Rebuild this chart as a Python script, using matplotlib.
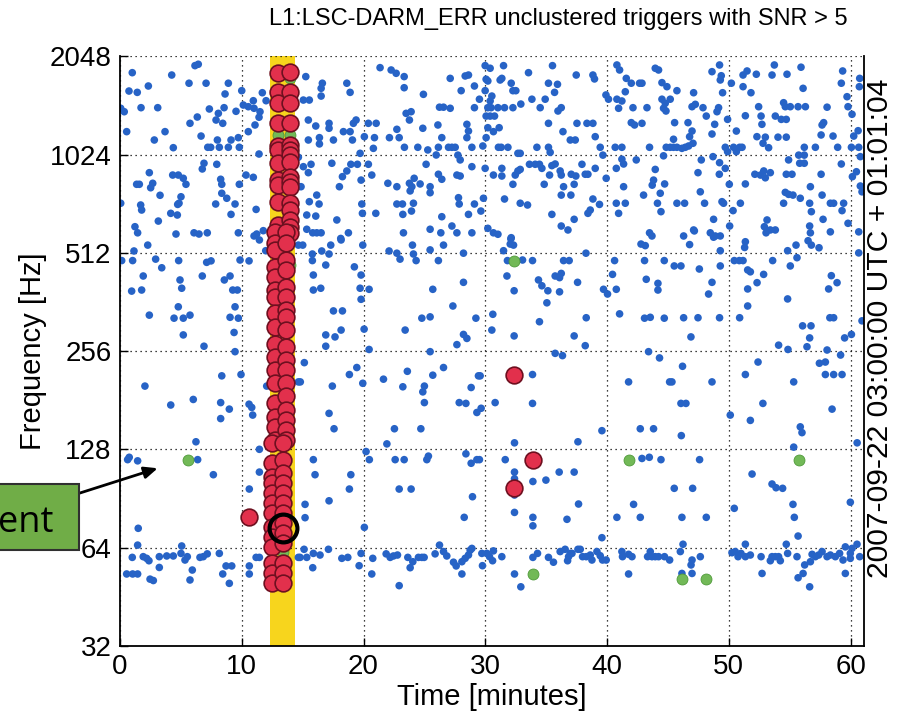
import matplotlib.pyplot as plt
from matplotlib.patches import Rectangle
from matplotlib.ticker import NullLocator

# ---- data: (time [min], frequency [Hz]) ----
blue_1024_2048 = [
    (1.01, 1827), (4.25, 1797), (6.16, 1920), (6.43, 1939), (0.74, 1605), (1.42, 1590), (2.33, 1663),
    (5.67, 1696), (7.07, 1696), (8.9, 1696), (8.63, 1572), (10.0, 1609), (0.06, 1421), (0.35, 1387),
    (1.73, 1427), (3.1, 1427), (7.34, 1414), (8.08, 1371), (8.55, 1427), (9.53, 1391), (10.13, 1454),
    (10.54, 1437), (10.95, 1499), (11.01, 1421), (11.5, 1387), (11.69, 1586), (12.0, 1499), (6.35, 1336),
    (5.75, 1278), (7.89, 1308), (8.44, 1278), (0.55, 1205), (3.7, 1205), (2.82, 1136), (6.66, 1168),
    (8.0, 1136), (9.12, 1136), (9.72, 1155), (10.54, 1205), (11.09, 1263), (11.42, 1334), (4.38, 1076),
    (7.21, 1079), (7.45, 1079), (8.16, 1079), (8.9, 1079), (9.8, 1079), (11.42, 1029),
    (15.26, 1777), (16.62, 1696), (16.52, 1636), (16.52, 1549), (18.63, 1696), (18.9, 1590), (15.06, 1506),
    (15.55, 1506), (15.47, 1308), (16.08, 1254), (17.17, 1278), (17.17, 1234), (18.35, 1205), (18.9, 1205),
    (19.39, 1308), (19.17, 1278), (15.47, 1136), (16.38, 1155), (16.38, 1105), (17.53, 1136), (19.09, 1136),
    (20.07, 1163), (21.36, 1893), (22.27, 1862), (22.68, 1819), (23.34, 1777), (23.34, 1643), (24.92, 1568),
    (26.24, 1432), (26.57, 1432), (23.5, 1371), (23.91, 1387), (23.77, 1308), (20.4, 1278), (21.04, 1278),
    (22.74, 1225), (24.87, 1234), (26.11, 1263), (20.9, 1155), (22.13, 1155), (22.93, 1155), (26.43, 1155),
    (20.81, 1071), (23.36, 1079), (24.46, 1079), (25.28, 1059), (26.15, 1079), (26.98, 1079), (19.72, 1034),
    (27.12, 1755), (27.12, 1421), (28.35, 1785), (28.62, 1797), (28.02, 1609), (29.11, 1663), (29.99, 1920),
    (30.4, 1885), (31.5, 1920), (30.07, 1744), (30.21, 1723), (31.22, 1735), (31.36, 1755), (32.13, 1696),
    (29.99, 1609), (30.54, 1549), (32.27, 1609), (32.51, 1609), (29.52, 1515), (30.4, 1496), (29.11, 1427),
    (30.21, 1427), (30.48, 1427), (31.04, 1427), (31.58, 1427), (32.27, 1427), (32.92, 1464), (33.55, 1827),
    (33.83, 1515), (34.51, 1427), (34.92, 1515), (35.52, 1920), (35.19, 1696), (35.93, 1683), (35.69, 1590),
    (36.24, 1427), (35.97, 1394), (37.47, 1797), (38.84, 1797), (38.97, 1748), (30.07, 1345), (30.4, 1345),
    (30.76, 1345), (28.49, 1269), (28.62, 1210), (28.49, 1155), (30.21, 1239), (30.67, 1205), (31.14, 1239),
    (30.07, 1155), (35.19, 1278), (36.38, 1205), (37.53, 1278), (38.35, 1278), (38.84, 1278), (39.03, 1163),
    (36.98, 1136), (37.39, 1136), (27.26, 1079), (27.53, 1079), (28.9, 1079), (29.8, 1089), (31.08, 1079),
    (31.31, 1079), (31.86, 1079), (32.68, 1034), (32.87, 1034), (34.24, 1079), (35.19, 1079), (35.33, 1041),
    (39.44, 1079), (40.81, 1929), (41.03, 1862), (41.58, 1755), (41.99, 1696), (42.67, 1696), (42.87, 1696),
    (41.5, 1597), (39.91, 1561), (40.12, 1515), (40.81, 1515), (41.22, 1496), (40.95, 1421), (42.13, 1427),
    (43.28, 1427), (43.96, 1885), (44.23, 1862), (41.99, 1284), (42.26, 1263), (42.87, 1278), (40.67, 1079),
    (41.22, 1079), (43.49, 1079),
    (44.51, 1703), (44.92, 1655), (45.74, 1609), (44.51, 1515), (45.19, 1515), (44.78, 1472), (44.64, 1421),
    (44.84, 1394), (47.11, 1586), (48.62, 1840), (49.24, 1929), (49.38, 1788), (49.3, 1735), (49.49, 1586),
    (46.98, 1437), (47.25, 1461), (47.88, 1427), (48.15, 1345), (49.16, 1427), (49.03, 1387), (49.9, 1314),
    (45.55, 1284), (46.65, 1284), (46.98, 1210), (46.78, 1163), (48.84, 1269), (48.62, 1185), (45.46, 1142),
    (44.86, 1079), (45.19, 1079), (45.46, 1079), (45.74, 1079), (46.15, 1071), (46.43, 1079), (46.7, 1089),
    (47.06, 1110), (49.71, 1079), (49.9, 1046), (50.39, 1079), (50.62, 1046), (51.09, 1079),
    (50.21, 1696), (51.17, 1797), (51.5, 1849), (52.26, 1807), (53.55, 1797), (53.74, 1929), (54.78, 1807),
    (55.93, 1899), (51.17, 1655), (51.82, 1586), (56.1, 1636), (52.45, 1437), (52.65, 1345), (51.36, 1348),
    (50.62, 1210), (52.72, 1269), (53.82, 1345), (54.31, 1314), (54.72, 1314), (54.5, 1478), (54.64, 1437),
    (55.05, 1437), (55.69, 1437), (56.29, 1437), (52.31, 1163), (53.0, 1159), (54.04, 1159), (54.72, 1159),
    (52.81, 1110), (53.27, 1076), (50.89, 1079), (56.2, 1079), (57.11, 1079), (58.07, 1432), (57.66, 1263),
    (57.79, 1284), (57.58, 1177), (58.56, 1168), (59.35, 1849), (59.24, 1696), (59.71, 1542), (59.79, 1437),
    (60.12, 1362), (60.75, 1755), (60.72, 1655), (60.62, 1213), (60.26, 1168), (60.07, 1079), (60.67, 1079),
    (58.94, 1079),
]

blue_512_1024 = [
    (6.9, 964), (6.76, 926), (7.95, 957), (2.41, 902), (1.37, 831), (1.59, 831), (2.69, 837), (2.52, 811),
    (4.33, 887), (4.79, 887), (5.2, 867), (5.42, 831), (8.27, 861), (8.36, 831), (10.35, 887), (10.95, 873),
    (9.8, 831), (3.29, 769), (5.01, 761), (4.85, 727), (4.74, 721), (8.36, 780), (8.77, 753), (0.06, 727),
    (1.7, 718), (1.78, 693), (4.17, 677), (4.71, 669), (7.86, 723), (9.45, 723), (11.18, 696), (9.12, 672),
    (3.15, 641), (1.23, 616), (1.45, 590), (4.6, 585), (6.08, 590), (6.49, 585), (7.17, 590), (9.72, 590),
    (11.23, 585), (11.77, 599), (14.65, 817),
    (25.97, 1022), (14.65, 1006), (15.06, 941), (15.69, 957), (15.47, 902), (17.4, 964), (18.96, 957),
    (19.5, 957), (18.63, 913), (18.27, 877), (18.02, 817), (19.8, 856), (14.87, 817), (20.68, 887),
    (20.4, 957), (22.0, 837), (22.74, 817), (24.16, 867), (23.77, 837), (23.97, 817), (23.83, 793),
    (24.65, 833), (25.14, 957), (26.15, 892), (26.43, 861), (25.47, 817), (25.47, 783), (16.16, 770),
    (16.35, 723), (15.55, 735), (19.86, 723), (22.74, 723), (23.2, 723), (24.1, 727), (23.94, 688),
    (23.23, 672), (15.34, 669), (16.08, 664), (17.81, 646), (19.91, 677), (21.01, 677), (26.43, 661),
    (15.34, 605), (15.83, 590), (16.16, 590), (16.52, 590), (18.13, 567), (18.76, 590), (23.28, 590),
    (25.47, 605), (26.35, 590),
    (39.66, 1021), (27.75, 1021), (27.94, 987), (28.9, 941), (29.99, 930), (27.67, 887), (27.94, 881),
    (30.67, 887), (31.36, 930), (31.36, 881), (32.68, 913), (32.87, 923), (32.46, 887), (33.63, 957),
    (34.1, 957), (34.45, 957), (34.65, 930), (35.47, 948), (35.74, 959), (35.28, 887), (36.15, 913),
    (36.24, 887), (37.06, 892), (37.44, 881), (37.94, 957), (38.21, 892), (38.43, 892), (39.03, 930),
    (32.27, 831), (34.84, 831), (36.43, 817), (37.3, 831), (36.24, 770), (37.03, 770), (27.8, 756),
    (27.86, 723), (29.11, 723), (29.85, 753), (31.58, 749), (32.87, 727), (33.47, 718), (38.84, 749),
    (39.38, 721), (28.62, 672), (29.64, 688), (35.47, 672), (38.43, 677), (38.62, 693), (37.3, 649),
    (27.26, 619), (27.67, 590), (28.9, 590), (30.21, 609), (30.67, 590), (31.04, 584), (32.13, 570),
    (36.24, 619), (36.79, 602),
    (41.22, 992), (41.36, 959), (40.76, 930), (42.4, 987), (39.93, 867), (41.36, 817), (43.0, 770),
    (43.82, 856), (43.71, 826), (40.76, 727), (41.5, 727), (40.95, 677), (44.14, 727), (43.49, 590),
    (43.69, 577),
    (44.64, 1016), (47.74, 987), (48.7, 1010), (49.24, 968), (49.71, 930), (49.22, 892), (47.47, 902),
    (43.96, 923), (44.73, 833), (44.37, 780), (47.66, 788), (45.74, 727), (46.37, 727), (44.43, 685),
    (48.01, 727), (49.44, 735), (49.57, 727), (50.04, 831), (50.35, 690), (48.75, 649), (50.07, 619),
    (47.11, 602), (46.29, 577), (48.48, 590), (48.89, 577), (49.3, 577),
    (60.8, 1010), (55.74, 1021), (56.2, 1021), (55.82, 964), (56.2, 964), (54.91, 987), (59.24, 959),
    (52.14, 892), (52.6, 887), (52.87, 913), (53.0, 870), (53.41, 902), (54.72, 892), (55.19, 892),
    (57.58, 892), (60.15, 877), (60.48, 908), (51.36, 833), (54.64, 785), (54.91, 774), (55.27, 770),
    (56.7, 817), (57.66, 770), (60.8, 821), (60.94, 788), (50.95, 727), (54.5, 727), (55.87, 753),
    (56.64, 727), (58.34, 727), (58.61, 727), (59.43, 727), (59.3, 690), (56.78, 685), (57.74, 649),
    (53.14, 646), (52.92, 616), (53.41, 602), (53.82, 602), (53.06, 590), (56.64, 619), (56.7, 590),
    (58.34, 594), (59.79, 631), (60.67, 594),
    (1.15, 519), (2.28, 541), (11.97, 520), (11.01, 577), (11.45, 561), (14.65, 541), (15.01, 541),
    (17.31, 541), (18.16, 561), (19.94, 541), (16.57, 519), (22.1, 519), (24.02, 541), (25.47, 523),
    (26.57, 541), (32.1, 565), (32.05, 545), (32.32, 541), (31.5, 520), (42.79, 545), (43.14, 539),
    (46.78, 543), (47.17, 598), (49.3, 520), (51.36, 554), (51.3, 532), (48.75, 572), (54.83, 520),
    (55.52, 541), (56.51, 558), (56.78, 541), (57.41, 531), (60.67, 512),
]

blue_256_512 = [
    (0.14, 485), (1.04, 485), (2.93, 490), (3.43, 461), (1.91, 435), (0.96, 391), (1.78, 394), (2.41, 330),
    (4.82, 485), (4.93, 423), (5.07, 399), (4.79, 350), (4.44, 323), (5.2, 323), (5.75, 330), (5.2, 287),
    (6.76, 435), (7.12, 479), (7.48, 484), (6.9, 265), (8.57, 423), (9.04, 435), (9.26, 394), (9.64, 394),
    (9.45, 350), (9.04, 325), (9.72, 323), (9.37, 292), (9.45, 255), (9.86, 487), (10.6, 484),
    (17.17, 508), (15.8, 508), (15.8, 485), (16.9, 470), (15.88, 438), (15.88, 394), (16.49, 399),
    (19.25, 464), (19.8, 438), (19.72, 399), (20.46, 396), (19.8, 369), (17.53, 340), (18.27, 340),
    (20.05, 299), (18.16, 297), (16.9, 287), (17.66, 283), (16.9, 265), (20.46, 259), (22.74, 511),
    (23.0, 490), (24.1, 508), (24.32, 485), (26.15, 485), (28.21, 511), (28.21, 416), (25.69, 396),
    (27.34, 352), (24.79, 323), (25.47, 326), (29.23, 323), (23.42, 297), (28.21, 288), (28.49, 280),
    (27.67, 268), (25.47, 255),
    (31.82, 485), (33.06, 487), (33.88, 485), (31.78, 435), (32.37, 392), (34.37, 423), (34.65, 406),
    (35.14, 392), (35.06, 360), (35.74, 435), (36.1, 430), (36.24, 443), (36.43, 485), (36.89, 485),
    (36.1, 389), (37.58, 416), (38.27, 511), (30.62, 332), (30.54, 297), (32.37, 285), (34.45, 315),
    (37.3, 285), (38.29, 324), (38.21, 266), (39.71, 396), (40.04, 383), (40.62, 485), (40.45, 440),
    (40.76, 396), (41.03, 333), (43.08, 485), (44.7, 485), (43.22, 425), (44.18, 413), (44.18, 394),
    (43.08, 323), (43.55, 325), (44.7, 323),
    (45.52, 467), (46.07, 467), (47.58, 457), (49.3, 467), (50.45, 485), (50.86, 485), (51.17, 485),
    (51.55, 454), (51.77, 448), (52.86, 440), (52.32, 415), (51.55, 397), (51.55, 352), (48.62, 416),
    (48.34, 383), (53.6, 485), (55.05, 467), (55.6, 495), (54.83, 370), (58.42, 436), (58.89, 415),
    (58.2, 397), (46.29, 324), (47.47, 324), (49.24, 324), (50.89, 324), (46.89, 283), (56.06, 306),
    (56.75, 306), (56.64, 281), (54.09, 267), (54.86, 259), (56.42, 264), (58.3, 324), (58.61, 324),
    (59.51, 281), (60.07, 288), (60.94, 317), (58.07, 258),
]

blue_128_256 = [
    (8.36, 215), (9.94, 217), (2.05, 200), (4.17, 175), (6.02, 182), (8.27, 178), (8.27, 159), (8.98, 170),
    (10.6, 176), (10.82, 172), (10.9, 163), (12.05, 200), (6.24, 135), (14.65, 206), (11.45, 128),
    (15.14, 236), (14.81, 206), (17.44, 200), (18.84, 217), (19.45, 228), (19.94, 204), (21.64, 210),
    (23.6, 222), (23.23, 199), (25.0, 200), (24.87, 192), (25.0, 178), (25.69, 216), (26.57, 228),
    (28.84, 198), (29.44, 215), (27.86, 178), (28.41, 177), (29.31, 166), (17.17, 165), (17.58, 148),
    (22.54, 148), (24.71, 148), (21.92, 133),
    (35.74, 252), (36.34, 248), (43.41, 255), (44.31, 244), (33.88, 217), (29.58, 215), (30.81, 178),
    (33.88, 177), (29.66, 171), (39.58, 146), (32.4, 134), (37.61, 135), (41.77, 206), (42.73, 148),
    (43.82, 148), (45.14, 206),
    (59.18, 249), (46.2, 230), (45.33, 206), (48.62, 206), (52.4, 237), (51.36, 217), (55.33, 206),
    (57.44, 235), (57.93, 237), (57.93, 217), (58.61, 217), (59.3, 217), (46.07, 177), (46.48, 177),
    (50.12, 163), (51.77, 157), (52.8, 177), (58.48, 170), (55.87, 150), (56.01, 144), (46.1, 141),
    (55.33, 130), (60.54, 134),
]

blue_64_128 = [
    (0.63, 119), (0.76, 121), (1.45, 118), (6.38, 119), (7.67, 107), (11.45, 109), (10.62, 96.7),
    (1.5, 73.3), (1.45, 65.1), (5.07, 64.7),
    (15.88, 119), (16.02, 107), (18.96, 107), (18.84, 96.7), (20.21, 126), (20.48, 119), (22.6, 119),
    (23.34, 119), (25.2, 119), (25.33, 122), (28.41, 124), (28.84, 116), (29.31, 119), (29.52, 119),
    (31.64, 119), (32.4, 109), (32.4, 104), (32.4, 92.7), (33.91, 102), (34.98, 103), (36.07, 109),
    (37.3, 109), (22.93, 96.7), (23.91, 96.7), (28.95, 91.6), (15.2, 86.8), (15.2, 79.0), (17.17, 89.0),
    (28.27, 79.2), (32.4, 82.0), (33.91, 79.2), (33.91, 74.6), (36.71, 78.1), (37.66, 87.0), (20.07, 73.8),
    (26.24, 65.1),
    (39.58, 68.6), (42.87, 120), (43.47, 121), (44.43, 119), (47.6, 119), (45.52, 97.2), (47.03, 97.2),
    (42.18, 86.8), (40.81, 79.2), (42.73, 79.2), (46.15, 79.2), (48.15, 79.2), (51.91, 107.5),
    (53.55, 100.2), (53.88, 97.6), (54.42, 97.2), (50.45, 84.4), (55.27, 86.8), (55.38, 79.2),
    (55.69, 69.4), (59.98, 88.1), (46.24, 65.5), (51.36, 65.5), (54.72, 65.5), (60.53, 65.5), (59.57, 64.3),
]

blue_32_64 = [
    (1.01, 59.7), (1.91, 60.0), (2.19, 59.3), (2.38, 58.3), (3.23, 60.0), (3.23, 55.6), (3.84, 60.3),
    (4.38, 60.3), (5.01, 61.4), (5.34, 58.6), (5.53, 60.0), (5.94, 54.6), (6.57, 59.7), (6.84, 60.0),
    (7.17, 61.2), (8.16, 61.4), (8.71, 56.2), (9.18, 56.2), (8.44, 53.1), (8.98, 49.7), (10.62, 56.2),
    (10.62, 53.1), (11.18, 59.7), (11.45, 59.7), (0.55, 53.1), (1.04, 53.1), (1.45, 53.1), (2.47, 51.2),
    (2.74, 50.7), (5.75, 50.9), (14.65, 59.7),
    (15.12, 63.2), (14.79, 59.7), (15.34, 59.7), (15.88, 61.4), (16.43, 60.7), (17.12, 63.2), (15.83, 55.5),
    (18.22, 59.3), (18.71, 59.7), (19.64, 56.3), (19.8, 61.4), (20.76, 59.3), (20.68, 53.1), (21.86, 61.2),
    (22.19, 59.7), (22.46, 60.3), (22.79, 60.7), (22.93, 48.9), (23.64, 59.7), (24.05, 57.9), (23.83, 55.5),
    (24.51, 59.7), (24.79, 59.7), (24.98, 59.7), (25.88, 61.2), (26.57, 62.2), (26.84, 60.3), (27.39, 57.7),
    (27.61, 56.2), (28.08, 57.9), (28.35, 59.3), (28.62, 60.7), (28.76, 62.8), (28.9, 63.6), (28.08, 53.1),
    (29.72, 61.4), (30.13, 61.4), (30.35, 60.0), (30.6, 58.3), (30.67, 62.5), (31.36, 60.0), (29.77, 56.3),
    (32.4, 53.1), (32.92, 48.5), (33.91, 59.7), (34.29, 61.4), (35.19, 59.7), (35.6, 57.7), (36.15, 62.2),
    (36.56, 63.2), (36.98, 61.4), (36.84, 60.0), (36.76, 58.3), (37.61, 63.2),
    (37.12, 61.4), (37.8, 63.2), (37.99, 60.0), (38.29, 60.0), (38.62, 60.7), (38.76, 58.6), (39.17, 62.2),
    (39.44, 60.4), (39.63, 58.6), (39.93, 58.6), (41.22, 62.2), (41.27, 60.0), (41.77, 61.0), (42.05, 60.0),
    (41.77, 53.1), (43.33, 60.0), (43.55, 62.2), (43.69, 60.0), (43.96, 60.0), (44.23, 60.0), (44.72, 60.0),
    (45.14, 58.6), (46.02, 62.2), (46.15, 53.3), (46.98, 53.3), (46.98, 58.6), (46.9, 56.6), (47.66, 60.0),
    (50.26, 61.7), (50.53, 62.2), (50.76, 60.0), (51.0, 61.4), (51.36, 60.0), (51.77, 60.7), (52.65, 60.0),
    (52.73, 53.3), (53.41, 58.3), (53.55, 60.0), (53.82, 60.0), (54.09, 60.0), (54.23, 58.3), (54.83, 61.4),
    (55.6, 60.0), (55.69, 51.7), (56.1, 53.3), (56.23, 56.6), (56.64, 48.5), (56.7, 57.9), (56.84, 61.0),
    (57.11, 60.0), (57.38, 60.7), (57.66, 62.2), (58.07, 60.0), (58.34, 60.7), (58.75, 60.0), (59.1, 61.4),
    (59.38, 58.6), (59.57, 53.3), (59.98, 61.4), (59.98, 59.3), (60.12, 63.6), (60.75, 60.0),
]

green_pts = [
    (5.6, 119), (32.37, 485), (33.91, 53.1), (41.77, 119), (55.74, 119), (46.15, 51.1), (48.15, 51.1),
    # partly hidden under the red column
    (14.0, 1755), (13.0, 1180), (14.0, 1180), (13.0, 1000), (14.0, 800), (13.0, 540), (14.0, 470),
    (12.7, 420), (13.6, 290), (12.7, 250), (13.6, 190), (12.7, 140), (13.4, 104), (12.45, 66), (13.4, 62),
]

red_outside = [(10.62, 79.2), (32.37, 217), (33.88, 119), (32.4, 97.2)]

red_column = [
    # upper part
    (13.0, 1827), (13.0, 1597), (13.0, 1472), (13.0, 1278), (13.0, 1089), (13.0, 1059), (13.0, 964),
    (13.0, 856), (13.0, 826), (13.0, 735), (13.0, 624), (13.0, 574),
    (14.0, 1840), (14.0, 1597), (14.0, 1472), (14.0, 1278), (14.0, 1097), (14.0, 1059), (14.0, 1021),
    (14.0, 974), (14.0, 877), (14.0, 846), (14.0, 817), (14.0, 727), (14.0, 693), (14.0, 646), (14.0, 616),
    (14.0, 588),
    # middle part
    (12.7, 594), (12.7, 548), (12.7, 523), (12.7, 464), (12.7, 433), (12.7, 394), (12.7, 376), (12.7, 334),
    (12.7, 304), (12.7, 270), (12.7, 246), (12.7, 224), (12.7, 204), (12.7, 177), (12.7, 161), (12.7, 150),
    (12.7, 137),
    (13.6, 594), (13.6, 548), (13.6, 487), (13.6, 454), (13.6, 403), (13.6, 376), (13.6, 342), (13.6, 326),
    (13.6, 297), (13.6, 264), (13.6, 240), (13.6, 224), (13.6, 204), (13.6, 186), (13.6, 169), (13.6, 157),
    (13.6, 147), (13.6, 137),
    # lower part
    (12.45, 134), (12.45, 116), (12.45, 105.5), (12.45, 100.7), (12.45, 93.8), (12.45, 87.4), (12.45, 81.5),
    (12.45, 74.1), (12.45, 69.1), (12.45, 64.3), (12.45, 57.3), (12.45, 53.3), (12.45, 49.7),
    (13.4, 134), (13.4, 119), (13.4, 108), (13.4, 100.7), (13.4, 93.8), (13.4, 87.4), (13.4, 81.5),
    (13.4, 75.9), (13.4, 70.7), (13.4, 65.9), (13.4, 57.3), (13.4, 53.3), (13.4, 49.7),
]

event_t, event_f = 13.37, 73.3          # black circle
band_start, band_end = 12.33, 14.38      # yellow strip
yticks = [32, 64, 128, 256, 512, 1024, 2048]
xticks = [0, 10, 20, 30, 40, 50, 60]

plt.rcParams['font.family'] = ['Liberation Sans', 'DejaVu Sans']

fig = plt.figure(figsize=(8.98, 7.17), dpi=100)
ax = fig.add_axes([0.1336, 0.0994, 0.8285, 0.8218])

ax.axvspan(band_start, band_end, color='#f7d51d', zorder=0, lw=0)

blue = blue_1024_2048 + blue_512_1024 + blue_256_512 + blue_128_256 + blue_64_128 + blue_32_64
bt, bf = zip(*blue)
ax.scatter(bt, bf, s=30, c='#2763c6', edgecolors='none', zorder=2)

gt, gf = zip(*green_pts)
ax.scatter(gt, gf, s=62, c='#72b957', edgecolors='#4f9a3a', linewidths=0.6, zorder=3)

rt, rf = zip(*(red_column + red_outside))
ax.scatter(rt, rf, s=145, c='#e2304c', edgecolors='#6e1020', linewidths=1.2, zorder=4)

ax.plot(event_t, event_f, 'o', ms=20, mfc='none', mec='k', mew=3, zorder=6)

ax.set_yscale('log', base=2)
ax.set_ylim(32, 2048)
ax.set_xlim(0, 61.1)
ax.set_yticks(yticks)
ax.set_yticklabels([str(v) for v in yticks])
ax.yaxis.set_minor_locator(NullLocator())
ax.set_xticks(xticks)
ax.grid(True, linestyle=(0, (1, 3)), color='k', lw=0.9)
ax.set_axisbelow(True)
ax.tick_params(direction='in', length=6, width=1, labelsize=20, pad=6)
ax.spines['top'].set_visible(False)
for s in ['left', 'bottom', 'right']:
    ax.spines[s].set_linewidth(1.3)

ax.set_xlabel('Time [minutes]', fontsize=21, labelpad=2)
ax.set_ylabel('Frequency [Hz]', fontsize=21, labelpad=2)
fig.text(0.622, 0.973, 'L1:LSC-DARM_ERR unclustered triggers with SNR > 5', ha='center', va='center', fontsize=17)
fig.text(0.98, 1 - 328 / 717, '2007-09-22 03:00:00 UTC + 01:01:04', rotation=90,
         ha='center', va='center', fontsize=21.6)

# callout box cut by the left edge
fig.patches.append(Rectangle((-0.05, 0.233), 0.1376, 0.0915, transform=fig.transFigure,
                             fc='#70ad47', ec='#303030', lw=1.5, zorder=10))
fig.text(54 / 898, 1 - 531.7 / 717, 'ent', ha='right', va='baseline', fontsize=26,
         family=['Open Sans', 'DejaVu Sans'], zorder=11)
ax.annotate('', xy=(3.1, 112), xytext=(-3.38, 93.8),
            arrowprops=dict(arrowstyle='-|>,head_length=0.8,head_width=0.35', color='k', lw=2,
                            shrinkA=0, shrinkB=0),
            annotation_clip=False)

fig.savefig('out.png', dpi=100)
